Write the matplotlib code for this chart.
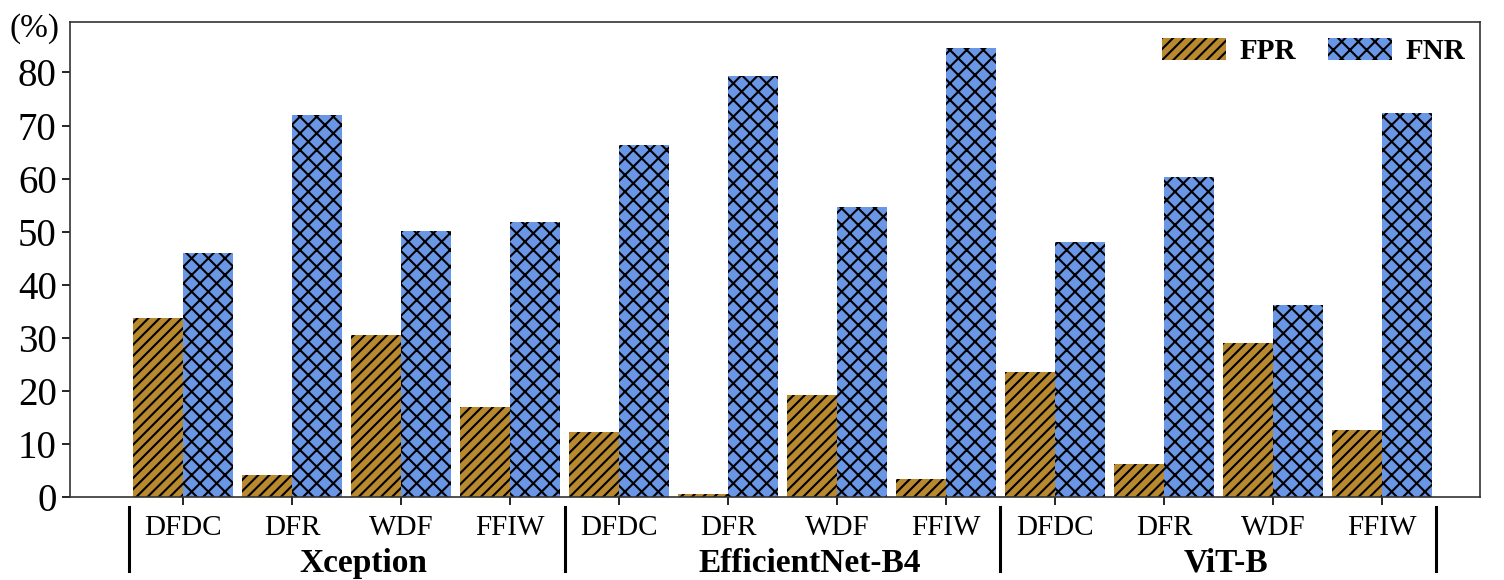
import matplotlib.pyplot as plt
import numpy as np

plt.rcParams['font.family'] = 'Liberation Serif'
plt.rcParams['hatch.linewidth'] = 1.5

models = ['Xception', 'EfficientNet-B4', 'ViT-B']
datasets = ['DFDC', 'DFR', 'WDF', 'FFIW']
fpr = [33.7, 4.1, 30.5, 16.9,
       12.2, 0.5, 19.2, 3.4,
       23.5, 6.2, 29.0, 12.6]
fnr = [46.0, 72.0, 50.1, 51.8,
       66.3, 79.3, 54.6, 84.7,
       48.0, 60.3, 36.2, 72.3]

fig = plt.figure(figsize=(15.04, 5.8), dpi=100)
ax = fig.add_axes([0.0465, 0.143, 0.9375, 0.819])

x = np.arange(len(fpr))
w = 0.46
ax.bar(x - w/2, fpr, w, color='#B8892E', hatch='///', edgecolor='black', linewidth=0, label='FPR')
ax.bar(x + w/2, fnr, w, color='#6A96E6', hatch='xx', edgecolor='black', linewidth=0, label='FNR')

ax.set_xlim(-1.04, 11.9)
ax.set_ylim(0, 89.5)
ax.set_yticks(range(0, 90, 10))
ax.tick_params(axis='y', labelsize=28, length=6, width=1.2)
ax.set_xticks(x)
ax.set_xticklabels(datasets * 3, fontsize=21)
ax.tick_params(axis='x', length=6, width=1.2, pad=7)
for s in ax.spines.values():
    s.set_linewidth(1.2)
    s.set_color('#333333')

# group separators and model names below the dataset labels
for d in [-0.5, 3.5, 7.5, 11.5]:
    ax.plot([d, d], [-0.02, -0.155], transform=ax.get_xaxis_transform(),
            color='black', linewidth=2.2, clip_on=False)
for xm, m in zip([1.65, 5.75, 9.57], models):
    ax.text(xm, -0.107, m, transform=ax.get_xaxis_transform(),
            ha='center', va='top', fontsize=24, fontweight='bold')

fig.text(0.006, 0.925, '(%)', fontsize=24, ha='left', va='bottom')

ax.legend(loc='upper right', ncol=2, frameon=False, prop={'size': 21, 'weight': 'bold'},
          handlelength=2.2, handleheight=0.8, handletextpad=0.45, columnspacing=1.1,
          bbox_to_anchor=(1.008, 1.022))

fig.savefig('out.png', dpi=100)
